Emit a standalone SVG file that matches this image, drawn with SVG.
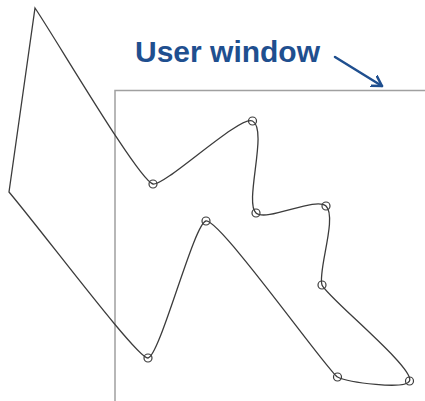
<svg xmlns="http://www.w3.org/2000/svg" width="425" height="401" viewBox="0 0 425 401">
<style>
.win{fill:none;stroke:#a0a0a0;stroke-width:1.5}
.curve{fill:none;stroke:#3c3c3c;stroke-width:1.3;stroke-linejoin:miter}
.pt{fill:none;stroke:#3c3c3c;stroke-width:1.2}
.lbl{font-family:"Liberation Sans",Arial,sans-serif;font-weight:bold;font-size:30px;fill:#1f4f8f}
.arr{fill:none;stroke:#1f4f8f;stroke-width:2.5;stroke-linecap:round}
</style>
<defs>
<marker id="ah" markerWidth="14" markerHeight="14" refX="10" refY="6" orient="auto" markerUnits="userSpaceOnUse" viewBox="0 0 14 12">
<polyline points="0,0 10,6 0,12" fill="none" stroke="#1f4f8f" stroke-width="2.5" stroke-linecap="round" stroke-linejoin="round"/>
</marker>
</defs>
<g id="window">
<polyline class="win" points="115,401 115,90.5 425,90.5"/>
</g>
<g id="label">
<text class="lbl" x="135" y="62">User window</text>
<line class="arr" x1="335" y1="57" x2="382" y2="86" marker-end="url(#ah)"/>
</g>
<g id="connectors">
<path class="curve" d="M35,8 C57.3,41.2 139.3,181.1 153,184 C164.7,186.5 240.1,114.5 252.5,121 C268.4,129.4 243.9,202.5 256,213 C266.6,222.2 315.9,196.3 326,206 C337.6,217 317.3,271.8 322,285 C326.1,296.3 415.5,368.4 409.5,381 C405.2,390 348.2,382.4 337.5,377 C328.6,372.5 219.8,218.9 206,221 C194.1,222.8 159.9,356.2 148,358 C138.1,359.5 47.5,238 9,192 Z"/>
</g>
<g id="points">
<circle class="pt" cx="153" cy="184" r="4"/>
<circle class="pt" cx="252.5" cy="121" r="4"/>
<circle class="pt" cx="256" cy="213" r="4"/>
<circle class="pt" cx="326" cy="206" r="4"/>
<circle class="pt" cx="322" cy="285" r="4"/>
<circle class="pt" cx="409.5" cy="381" r="4"/>
<circle class="pt" cx="337.5" cy="377" r="4"/>
<circle class="pt" cx="206" cy="221" r="4"/>
<circle class="pt" cx="148" cy="358" r="4"/>
</g>
</svg>
